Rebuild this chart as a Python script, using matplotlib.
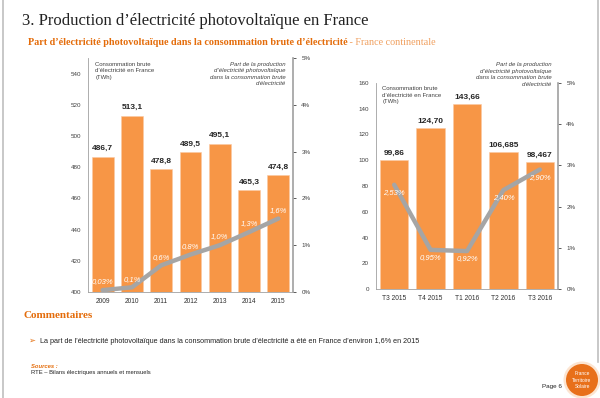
import matplotlib.pyplot as plt
from matplotlib.patches import Ellipse
from matplotlib.lines import Line2D

# Left chart - yearly data
years = ['2009', '2010', '2011', '2012', '2013', '2014', '2015']
conso_year = [486.7, 513.1, 478.8, 489.5, 495.1, 465.3, 474.8]
conso_year_labels = ['486,7', '513,1', '478,8', '489,5', '495,1', '465,3', '474,8']
pv_share_year = [0.04, 0.1, 0.57, 0.8, 1.0, 1.28, 1.57]
pv_share_year_labels = ['0,03%', '0,1%', '0,6%', '0,8%', '1,0%', '1,3%', '1,6%']

# Right chart - quarterly data
quarters = ['T3 2015', 'T4 2015', 'T1 2016', 'T2 2016', 'T3 2016']
conso_quarter = [99.86, 124.70, 143.66, 106.685, 98.467]
conso_quarter_labels = ['99,86', '124,70', '143,66', '106,685', '98,467']
pv_share_quarter = [2.53, 0.95, 0.92, 2.40, 2.90]
pv_share_quarter_labels = ['2,53%', '0,95%', '0,92%', '2,40%', '2,90%']

orange = '#F79646'
gray_line = '#A5A5A5'
title_orange = '#E46C0A'
serif = 'Liberation Serif'
sans = 'Liberation Sans'

W, H = 600, 398
fig = plt.figure(figsize=(6, 3.98), dpi=100)


def fx(px):
    return px / W


def fy(py):
    return 1 - py / H


# page frame
fig.add_artist(Line2D([fx(2.5), fx(2.5)], [0, 1], color='#BFBFBF', lw=1.2))
fig.add_artist(Line2D([fx(597.5), fx(597.5)], [fy(362), 1], color='#BFBFBF', lw=1.2))

# titles
fig.text(fx(22), fy(25), '3. Production d\u2019électricité photovoltaïque en France',
         fontsize=12, family=serif, color='#222222', va='baseline')
fig.text(fx(28), fy(45), 'Part d\u2019électricité photovoltaïque dans la consommation brute d\u2019électricité',
         fontsize=7.3, family=serif, weight='bold', color=title_orange, va='baseline')
fig.text(fx(347), fy(45), ' - France continentale', fontsize=7.3, family=serif,
         color='#F0A060', va='baseline')


def style_axes(ax, ax2):
    ax.spines['top'].set_visible(False)
    ax2.spines['top'].set_visible(False)
    ax.spines['left'].set_color('#A0A0A0')
    ax.spines['left'].set_linewidth(0.6)
    ax.spines['bottom'].set_color('#A0A0A0')
    ax.spines['bottom'].set_linewidth(0.6)
    ax.spines['right'].set_visible(False)
    ax2.spines['left'].set_visible(False)
    ax2.spines['bottom'].set_visible(False)
    ax2.spines['right'].set_color('#A0A0A0')
    ax2.spines['right'].set_linewidth(1.2)
    ax.tick_params(axis='y', labelsize=4.5, colors='#404040', length=0, pad=5)
    ax.tick_params(axis='x', labelsize=4.8, colors='#303030', length=0, pad=4)
    ax2.tick_params(axis='y', labelsize=4.5, colors='#404040', length=2, width=0.6, pad=4)
    for lab in ax.get_yticklabels() + ax.get_xticklabels() + ax2.get_yticklabels():
        lab.set_family(sans)


# ---- left chart
ax1 = fig.add_axes([fx(88), fy(292), fx(293) - fx(88), (292 - 58) / H])
x1 = range(len(years))
ax1.bar(x1, conso_year, width=0.75, color=orange, edgecolor='#FBC9A3', linewidth=0.4, zorder=2)
ax1.set_ylim(400, 550)
ax1.set_yticks(range(400, 541, 20))
ax1.set_xlim(-0.5, len(years) - 0.5)
ax1.set_xticks(list(x1))
ax1.set_xticklabels(years)
for i, v in enumerate(conso_year):
    ax1.text(i, v + 3, conso_year_labels[i], ha='center', va='bottom', fontsize=6,
             family=sans, weight='bold', color='#262626')
ax1b = ax1.twinx()
ax1b.plot(list(x1), pv_share_year, color=gray_line, lw=3.2, solid_capstyle='round', zorder=3)
ax1b.set_ylim(0, 5)
ax1b.set_yticks(range(0, 6))
ax1b.set_yticklabels([f'{v}%' for v in range(0, 6)])
for i, v in enumerate(pv_share_year):
    ax1b.text(i, v + 0.1, pv_share_year_labels[i], ha='center', va='bottom', fontsize=5.5,
              family=sans, style='italic', color='white')
style_axes(ax1, ax1b)
ax1.text(0.035, 0.985, 'Consommation brute\nd\u2019électricité en France\n(TWh)', transform=ax1.transAxes,
         ha='left', va='top', fontsize=4.3, family=sans, color='#404040', linespacing=1.4)
ax1.text(0.965, 0.985, 'Part de la production\nd\u2019électricité photovoltaïque\ndans la consommation brute\nd\u2019électricité',
         transform=ax1.transAxes, ha='right', va='top', fontsize=4.3, family=sans, style='italic',
         color='#404040', linespacing=1.4)

# ---- right chart
ax2 = fig.add_axes([fx(376), fy(289), fx(558) - fx(376), (289 - 83) / H])
x2 = range(len(quarters))
ax2.bar(x2, conso_quarter, width=0.78, color=orange, edgecolor='#FBC9A3', linewidth=0.4, zorder=2)
ax2.set_ylim(0, 160)
ax2.set_yticks(range(0, 161, 20))
ax2.set_xlim(-0.5, len(quarters) - 0.5)
ax2.set_xticks(list(x2))
ax2.set_xticklabels(quarters)
for i, v in enumerate(conso_quarter):
    ax2.text(i, v + 2.5, conso_quarter_labels[i], ha='center', va='bottom', fontsize=6,
             family=sans, weight='bold', color='#262626')
ax2b = ax2.twinx()
ax2b.plot(list(x2), pv_share_quarter, color=gray_line, lw=3.2, solid_capstyle='round', zorder=3)
ax2b.set_ylim(0, 5)
ax2b.set_yticks(range(0, 6))
ax2b.set_yticklabels([f'{v}%' for v in range(0, 6)])
for i, v in enumerate(pv_share_quarter):
    ax2b.text(i, v - 0.1, pv_share_quarter_labels[i], ha='center', va='top', fontsize=5.5,
              family=sans, style='italic', color='white')
style_axes(ax2, ax2b)
ax2.text(0.035, 0.985, 'Consommation brute\nd\u2019électricité en France\n(TWh)', transform=ax2.transAxes,
         ha='left', va='top', fontsize=4.3, family=sans, color='#404040', linespacing=1.4)
fig.text(fx(552), fy(62), 'Part de la production\nd\u2019électricité photovoltaïque\ndans la consommation brute\nd\u2019électricité',
         ha='right', va='top', fontsize=4.3, family=sans, style='italic', color='#404040', linespacing=1.4)

# ---- comments
fig.text(fx(24), fy(318), 'Commentaires', fontsize=8, family=serif, weight='bold',
         color=title_orange, va='baseline')
fig.text(fx(28), fy(343), '\u27a2', fontsize=6, family='DejaVu Sans', color=title_orange, va='baseline')
fig.text(fx(40), fy(343), 'La part de l\u2019électricité photovoltaïque dans la consommation brute d\u2019électricité a été en France d\u2019environ 1,6% en 2015',
         fontsize=5.2, family=sans, color='#222222', va='baseline')
fig.text(fx(31), fy(368), 'Sources :', fontsize=4.2, family=sans, weight='bold', style='italic',
         color=title_orange, va='baseline')
fig.text(fx(31), fy(374), 'RTE \u2013 Bilans électriques annuels et mensuels', fontsize=4.2, family=sans,
         color='#222222', va='baseline')
fig.text(fx(542), fy(388), 'Page 6', fontsize=4.5, family=sans, color='#222222', va='baseline')

# logo
fig.add_artist(Ellipse((fx(582), fy(380)), 37 / W, 37 / H, transform=fig.transFigure,
                       facecolor='#FCE4D0', edgecolor='none'))
fig.add_artist(Ellipse((fx(582), fy(380)), 32 / W, 32 / H, transform=fig.transFigure,
                       facecolor='#E8701A', edgecolor='none'))
fig.text(fx(582), fy(380), 'France\nTerritoire\nSolaire', ha='center', va='center', fontsize=3.5,
         family=sans, color='white', linespacing=1.3)

fig.savefig('out.png', dpi=100, facecolor='white')
